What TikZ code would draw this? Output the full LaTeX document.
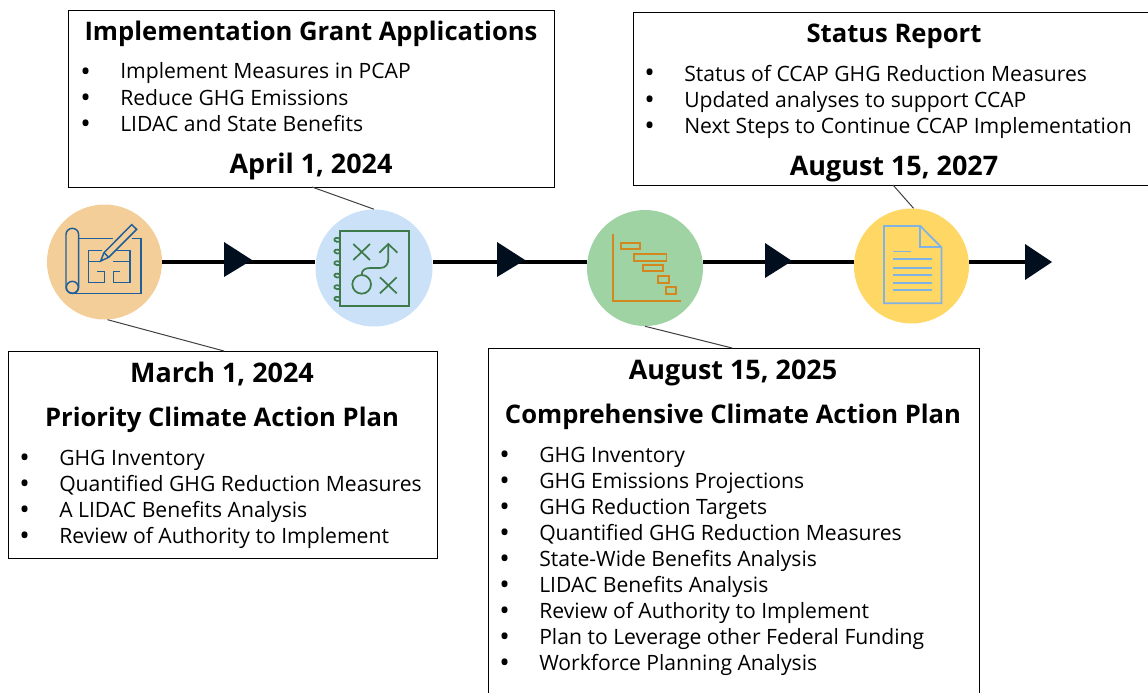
\documentclass[tikz,border=0pt]{standalone}
\usepackage{fontspec}
\setmainfont{Open Sans}
\definecolor{bpc}{HTML}{1F5F99}
\definecolor{grc}{HTML}{3F7B4A}
\definecolor{orc}{HTML}{D2871F}
\definecolor{blc}{HTML}{7FB2E5}
\definecolor{navy}{HTML}{000E1E}
\definecolor{cora}{HTML}{F4CE98}
\definecolor{cblu}{HTML}{CAE1F8}
\definecolor{cgrn}{HTML}{A0D3A4}
\definecolor{cyel}{HTML}{FFD765}
\tikzset{
  x=0.75pt,y=-0.75pt,
  box/.style={draw=black,line width=0.75pt,fill=white,rectangle,anchor=north west,inner sep=0pt},
  disc/.style={circle,inner sep=0pt,minimum size=#1*0.75pt},
  title/.style={anchor=base,inner sep=0pt,font=\fontsize{19.2}{22}\selectfont\bfseries},
  datetitle/.style={anchor=base,inner sep=0pt,font=\fontsize{20.2}{22}\selectfont\bfseries},
  body/.style={anchor=base west,inner sep=0pt,font=\fontsize{15.85}{18}\selectfont},
  bull/.style={anchor=base west,inner sep=0pt,font=\fontsize{21}{18}\selectfont},
  tl/.style={line width=3pt,black},
  leader/.style={line width=0.75pt,black!75},
  tip/.style={fill=navy},
}
\newcommand{\bul}[4]{\node[bull] (d#2) at (#1-5,#3+9) {•};\node[body] (t#2) at (#1+35,#3+7) {#4};}
\begin{document}
\begin{tikzpicture}
\useasboundingbox (0,0) rectangle (1148,692);
\clip (0,0) rectangle (1148,692);
% boxes
\node[box,minimum width=364.5pt,minimum height=132.75pt] (b1) at (68,10) {};
\node[box,minimum width=400pt,minimum height=129.75pt] (b2) at (633,12) {};
\node[box,minimum width=321.75pt,minimum height=155.25pt] (b3) at (8,351) {};
\node[box,minimum width=368.25pt,minimum height=270pt] (b4) at (488,348) {};
% circles
\node[disc=115,fill=cora] (c1) at (104.5,262) {};
\node[disc=117,fill=cblu] (c2) at (374,268) {};
\node[disc=116,fill=cgrn] (c3) at (645,268) {};
\node[disc=115,fill=cyel] (c4) at (911.5,266) {};
% leader end points on the boxes
\coordinate (l1) at (224,351);
\coordinate (l2) at (312,187);
\coordinate (l3) at (732,348);
\coordinate (l4) at (893,185);
\coordinate (lineend) at (1030,262);
\draw[leader] (c1.-87) -- (l1);
\draw[leader] (c2.north) -- (l2);
\draw[leader] (c3.south) -- (l3);
\draw[leader] (c4.88) -- (l4);
% timeline
\draw[tl] (c1.east) -- (c2.west |- c1.east);
\draw[tl] (c2.east |- c1.east) -- (c3.west |- c1.east);
\draw[tl] (c3.east |- c1.east) -- (c4.west |- c1.east);
\draw[tl] (c4.east |- c1.east) -- (lineend);
% arrowheads
\fill[tip] (224,242) -- (252,260) -- (224,277) -- cycle;
\fill[tip] (497,242) -- (525,260) -- (497,277) -- cycle;
\fill[tip] (765,243) -- (792,261) -- (765,278) -- cycle;
\fill[tip] (1025,244) -- (1052,262) -- (1025,280) -- cycle;
% icon 1
\begin{scope}[shift={(30,190)},x=0.25pt,y=-0.25pt,draw=bpc,line width=1.1pt]
\draw[rounded corners=4.7pt] (108,115) rectangle (146,310);
\draw (127,292) circle[radius=18];
\draw (146,146) -- (248,146) (305,146) -- (333,146) -- (333,310) -- (127,310);
\draw (215,182) -- (176,182) -- (176,277) -- (224,277) -- (224,245) -- (200,245);
\draw (176,214) -- (212,214);
\draw (258,182) -- (300,182) -- (300,277) -- (250,277) -- (250,245) -- (270,245);
\draw (250,214) -- (300,214);
\draw[fill=cora] (212,213) -- (222,188) -- (305,104) -- (320,118) -- (236,202) -- cycle;
\draw (222,188) -- (236,202);
\end{scope}
% icon 2
\begin{scope}[shift={(30,190)},x=0.25pt,y=-0.25pt,draw=grc,line width=1.3pt]
\draw (931,122) rectangle (1138,348);
\foreach \yy in {150,185,220,257,292,327}{
  \draw (931,\yy-3) .. controls (920,\yy-10) and (910,\yy-5) .. (914,\yy+2) .. controls (917,\yy+7) and (925,\yy+6) .. (931,\yy+4);
}
\draw (970,162) -- (1020,210) (1020,162) -- (970,210);
\draw (1050,262) -- (1100,310) (1100,262) -- (1050,310);
\draw (995,283) circle[radius=28];
\draw (995,255) .. controls (995,240) and (1005,234) .. (1020,234) -- (1050,234) .. controls (1068,234) and (1075,222) .. (1075,205) -- (1075,162);
\draw (1048,188) -- (1075,162) -- (1102,188);
\end{scope}
% icon 3
\begin{scope}[shift={(480,190)},x=0.2775pt,y=-0.25pt,draw=orc,line width=1.3pt]
\draw (359,133) -- (359,333) -- (542,333);
\draw (381,160) rectangle (433,178);
\draw (416,191) rectangle (504,213);
\draw (440,226) rectangle (495,244);
\draw (482,257) rectangle (510,278);
\draw (502,291) rectangle (529,313);
\end{scope}
% icon 4
\begin{scope}[shift={(480,190)},x=0.2775pt,y=-0.25pt,draw=blc,line width=1.3pt]
\draw (1092,108) -- (1190,108) -- (1247,172) -- (1247,340) -- (1092,340) -- cycle;
\draw (1190,108) -- (1190,172) -- (1247,172);
\draw[line width=0.5pt] (1115,184) -- (1165,184);
\foreach \yy in {208,233,255,279,301}{\draw (1115,\yy) -- (1222,\yy);}
\end{scope}
% box 1
\node[title] (h1) at (311,41) {Implementation Grant Applications};
\bul{85}{a1}{72}{Implement Measures in PCAP}
\bul{85}{a2}{98}{Reduce GHG Emissions}
\bul{85}{a3}{124}{LIDAC and State Benefits}
\node[datetitle] (e1) at (311,173) {April 1, 2024};
% box 2
\node[title] (h2) at (894,43) {Status Report};
\bul{649}{b1}{74}{Status of CCAP GHG Reduction Measures}
\bul{649}{b2}{100}{Updated analyses to support CCAP}
\bul{649}{b3}{126}{Next Steps to Continue CCAP Implementation}
\node[datetitle] (e2) at (894,175) {August 15, 2027};
% box 3
\node[datetitle] (e3) at (222,382) {March 1, 2024};
\node[title] (h3) at (222,426) {Priority Climate Action Plan};
\bul{24}{c1}{458}{GHG Inventory}
\bul{24}{c2}{484}{Quantified GHG Reduction Measures}
\bul{24}{c3}{510}{A LIDAC Benefits Analysis}
\bul{24}{c4}{536}{Review of Authority to Implement}
% box 4
\node[datetitle] (e4) at (733,379) {August 15, 2025};
\node[title] (h4) at (733,423) {Comprehensive Climate Action Plan};
\bul{504}{e1}{455}{GHG Inventory}
\bul{504}{e2}{481}{GHG Emissions Projections}
\bul{504}{e3}{507}{GHG Reduction Targets}
\bul{504}{e4}{533}{Quantified GHG Reduction Measures}
\bul{504}{e5}{559}{State-Wide Benefits Analysis}
\bul{504}{e6}{585}{LIDAC Benefits Analysis}
\bul{504}{e7}{611}{Review of Authority to Implement}
\bul{504}{e8}{637}{Plan to Leverage other Federal Funding}
\bul{504}{e9}{663}{Workforce Planning Analysis}
\end{tikzpicture}
\end{document}
